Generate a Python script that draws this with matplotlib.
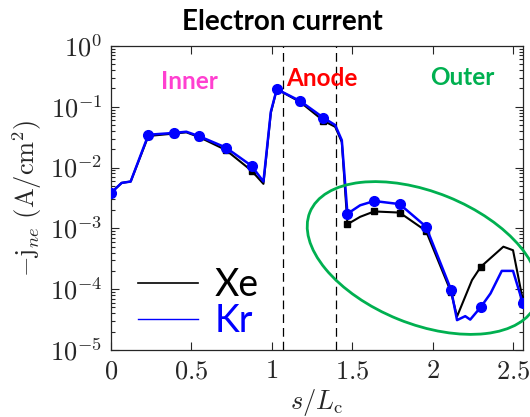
import matplotlib
matplotlib.use("Agg")
import matplotlib.pyplot as plt
from matplotlib.lines import Line2D
from matplotlib.patches import Ellipse
from matplotlib.ticker import LogLocator, NullFormatter

plt.rcParams["mathtext.fontset"] = "cm"

# Position along the channel wall, s / L_c
s_xe = [0, 0.068, 0.124, 0.234, 0.394, 0.47, 0.551, 0.715, 0.875, 0.949, 0.995,
        1.032, 1.177, 1.322, 1.395, 1.436, 1.471, 1.55, 1.637, 1.795, 1.959,
        2.115, 2.152, 2.245, 2.30, 2.44, 2.50, 2.56]
s_kr = [0, 0.068, 0.124, 0.234, 0.394, 0.47, 0.551, 0.715, 0.875, 0.949, 0.995,
        1.032, 1.177, 1.322, 1.395, 1.436, 1.471, 1.55, 1.637, 1.795, 1.959,
        2.115, 2.152, 2.203, 2.234, 2.30, 2.36, 2.43, 2.50, 2.56]

# Electron current density -j_ne (A/cm^2)
j_xe = [3.8e-3, 5.6e-3, 5.9e-3, 0.0331, 0.0363, 0.038, 0.0316, 0.0195, 8.9e-3,
        5.4e-3, 0.0794, 0.195, 0.120, 0.0589, 0.0468, 0.0263, 1.17e-3, 1.55e-3,
        1.9e-3, 1.82e-3, 9.1e-4, 8.9e-5, 3.55e-5, 1.41e-4, 2.34e-4, 5.0e-4,
        4.37e-4, 6.8e-5]
j_kr = [3.8e-3, 5.6e-3, 5.9e-3, 0.0347, 0.0372, 0.0389, 0.0327, 0.0214, 0.0107,
        5.9e-3, 0.0832, 0.195, 0.1245, 0.066, 0.050, 0.0282, 1.74e-3, 2.4e-3,
        2.82e-3, 2.51e-3, 1.07e-3, 9.8e-5, 3.1e-5, 3.6e-5, 3.16e-5, 5.1e-5,
        8.5e-5, 2.0e-4, 2.0e-4, 6.0e-5]

# Samples that carry a marker
marks_xe = [0, 3, 4, 6, 7, 8, 11, 12, 13, 16, 18, 19, 20, 21, 24, 27]
marks_kr = [0, 3, 4, 6, 7, 8, 11, 12, 13, 16, 18, 19, 20, 21, 25, 29]

# Region boundaries (s / L_c)
boundaries = [1.07, 1.40]

x_ticks = [0, 0.5, 1, 1.5, 2, 2.5]
x_labels = [r"$0$", r"$0.5$", r"$1$", r"$1.5$", r"$2$", r"$2.5$"]
y_ticks = [1e-5, 1e-4, 1e-3, 1e-2, 1e-1, 1e0]
y_labels = [r"$10^{-5}$", r"$10^{-4}$", r"$10^{-3}$", r"$10^{-2}$",
            r"$10^{-1}$", r"$10^{0}$"]

fig = plt.figure(figsize=(5.3, 4.17), dpi=100)
ax = fig.add_axes([0.2089, 0.1607, 0.9862 - 0.2089, 0.8897 - 0.1607])

ax.plot(s_xe, j_xe, color="black", lw=1.5, marker="s", markersize=5,
        markevery=marks_xe, zorder=3)
ax.plot(s_kr, j_kr, color="#0000ff", lw=1.8, marker="o", markersize=7,
        markevery=marks_kr, zorder=4)

for b in boundaries:
    ax.axvline(b, color="black", lw=0.9, ls=(0, (7, 4)), zorder=2)

ax.set_yscale("log")
ax.set_xlim(0, 2.56)
ax.set_ylim(1e-5, 1)
ax.set_xticks(x_ticks)
ax.set_xticklabels(x_labels)
ax.set_yticks(y_ticks)
ax.set_yticklabels(y_labels)
ax.yaxis.set_minor_locator(LogLocator(base=10, subs=range(2, 10), numticks=20))
ax.yaxis.set_minor_formatter(NullFormatter())
ax.tick_params(which="both", direction="in", top=True, right=True,
               labelsize=19, colors="#262626", width=0.8, pad=6)
ax.tick_params(which="major", length=6)
ax.tick_params(which="minor", length=3)
for sp in ax.spines.values():
    sp.set_color("#262626")
    sp.set_linewidth(0.9)

ax.set_xlabel(r"$s/L_\mathrm{c}$", fontsize=19, color="#262626", labelpad=2)
ax.set_ylabel(r"$-\mathrm{j}_{ne}\ (\mathrm{A/cm^2})$", fontsize=19,
              color="#262626", labelpad=4)

fig.text(282 / 530, 1 - 22 / 417, "Electron current", ha="center",
         va="center", fontsize=20, fontweight="bold", family="Lato")

region_font = dict(fontsize=17.5, fontweight="bold", family="Lato",
                   ha="center", va="baseline")
fig.text(189 / 530, 1 - 89 / 417, "Inner", color="#ff40d0", **region_font)
fig.text(322 / 530, 1 - 86 / 417, "Anode", color="#ff0000", **region_font)
fig.text(462 / 530, 1 - 85 / 417, "Outer", color="#00b050", **region_font)

handles = [Line2D([], [], color="black", lw=1.2),
           Line2D([], [], color="#0000ff", lw=1.0)]
leg = ax.legend(handles, ["Xe", "Kr"], loc="lower left",
                bbox_to_anchor=(0.03, -0.012), frameon=False,
                prop=dict(family="Lato", size=27), labelcolor=["black", "#0000ff"],
                handlelength=1.6, handletextpad=0.45, labelspacing=0.0,
                borderaxespad=0.0)

ell = Ellipse((4.23, 1.59), 2.44, 1.32, angle=-22, fill=False,
              edgecolor="#00b050", lw=2.0, transform=fig.dpi_scale_trans,
              clip_on=False)
fig.add_artist(ell)

fig.savefig("out.png", dpi=100)
